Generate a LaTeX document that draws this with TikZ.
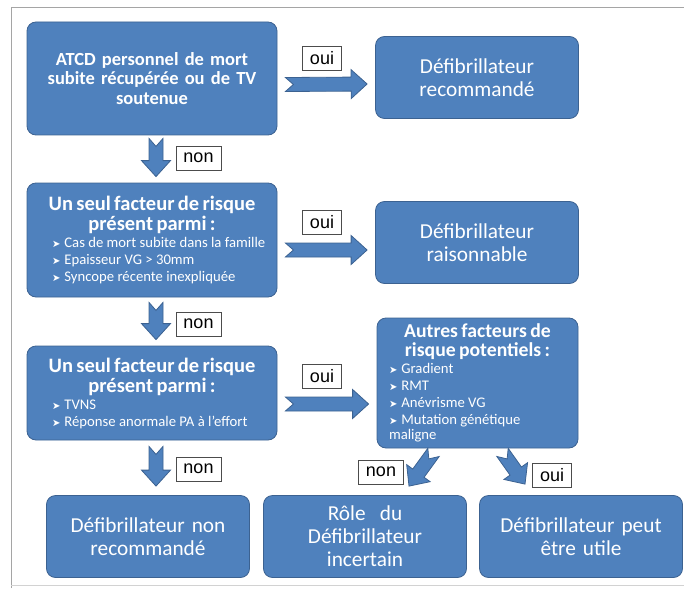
\documentclass[tikz,border=0pt]{standalone}
\usepackage{fontspec}
\setmainfont{Carlito}
\newfontfamily\labelfont{Liberation Sans}
\newfontfamily\bulletfont{DejaVu Sans}
\usetikzlibrary{calc}
\definecolor{boxblue}{RGB}{79,129,189}
\definecolor{boxline}{RGB}{60,98,145}
\definecolor{framegray}{RGB}{165,165,165}
\newlength{\puceskip}
\newcommand{\titlefont}{\fontsize{20.5}{20}\selectfont\bfseries}
\newcommand{\puce}[1]{\par\raggedright\leftskip=\puceskip\fontsize{14.7}{17}\selectfont\hangindent=13pt\hangafter=1{\bulletfont\fontsize{10}{10}\selectfont ➤}\hspace{4pt}#1\par}
\newcommand{\blockarrow}[2]{%
  \coordinate (ba-h) at ($(#2)!16pt!(#1)$);
  \coordinate (ba-n) at ($(#1)!8pt!(#2)$);
  \draw [arrowbody] ($(#1)!7pt!90:(#2)$) -- ($(ba-h)!7pt!90:(#2)$) -- ($(ba-h)!14.5pt!90:(#2)$) -- (#2)
    -- ($(ba-h)!14.5pt!-90:(#2)$) -- ($(ba-h)!7pt!-90:(#2)$) -- ($(#1)!7pt!-90:(#2)$) -- (ba-n) -- cycle;}
\tikzset{
  bluebox/.style={draw=boxline, fill=boxblue, line width=0.8pt, rounded corners=9pt, text=white, inner sep=0pt},
  askbox/.style={bluebox, minimum width=250pt, text width=240pt},
  endbox/.style={bluebox, minimum width=203pt, minimum height=82pt, text width=195pt, align=center, font=\fontsize{21.3}{23}\selectfont},
  answer/.style={draw=black!70, fill=white, line width=0.7pt, inner xsep=7.5pt, minimum height=24pt, font=\labelfont\fontsize{18}{18}\selectfont},
  arrowbody/.style={draw=boxline, fill=boxblue, line width=0.8pt, line join=miter}
}
\begin{document}
\begin{tikzpicture}[x=1pt, y=-1pt]
\useasboundingbox (0,0) rectangle (684,588);
\draw [framegray] (11,588) -- (11,7) -- (684,7);
\draw [framegray!50] (11,585) -- (684,585);
% questions
\node [askbox, minimum height=113pt, align=center, font=\fontsize{18.5}{19.5}\selectfont\bfseries] (q1) at (152,78.5) {ATCD personnel de mort\\subite récupérée ou de TV\\soutenue};
\node [askbox, minimum height=114pt] (q2) at (152,240) {\setlength{\puceskip}{20pt}{\centering\titlefont Un seul facteur de risque\\présent parmi :\par}
  \puce{Cas de mort subite dans la famille}\puce{Epaisseur VG > 30mm}\puce{Syncope récente inexpliquée}};
\node [askbox, minimum height=94pt] (q3) at (152,393) {\setlength{\puceskip}{20pt}{\centering\titlefont Un seul facteur de risque\\présent parmi :\par}
  \puce{TVNS}\puce{Réponse anormale PA à l’effort}};
\node [bluebox, minimum width=201pt, minimum height=130pt, text width=191pt] (r3) at (477.5,383) {\setlength{\puceskip}{7pt}{\centering\fontsize{19.7}{19}\selectfont\bfseries Autres facteurs de\\risque potentiels :\par}
  \puce{Gradient}\puce{RMT}\puce{Anévrisme VG}\puce{Mutation génétique\\[-2.5pt]maligne}};
% results
\node [endbox] (r1) at (477,77.5) {Défibrillateur\\recommandé};
\node [endbox] (r2) at (477,242.5) {Défibrillateur\\raisonnable};
\node [endbox] (e1) at (148,536.5) {Défibrillateur non\\recommandé};
\node [endbox] (e2) at (365,536.5) {Rôle~~du\\Défibrillateur\\incertain};
\node [endbox] (e3) at (581,536.5) {Défibrillateur peut\\être utile};
% arrows
\coordinate (a1s) at ($(q1.east)+(8,6)$);  \coordinate (a1t) at ($(r1.west)+(-8,6.5)$);
\coordinate (a2s) at ($(q2.east)+(8,10)$); \coordinate (a2t) at ($(r2.west)+(-8,7.5)$);
\coordinate (a3s) at ($(q3.east)+(8,11)$); \coordinate (a3t) at ($(r3.west)+(-8,21)$);
\coordinate (d1s) at ($(q1.south)+(4,3)$); \coordinate (d1t) at ($(q2.north)+(4,-6)$);
\coordinate (d2s) at ($(q2.south)+(4,5)$); \coordinate (d2t) at ($(q3.north)+(4,-6)$);
\coordinate (d3s) at ($(q3.south)+(4,6)$); \coordinate (d3t) at ($(e1.north)+(8,-9)$);
\coordinate (g1s) at ($(r3.south)+(-44,4)$); \coordinate (g1t) at ($(e2.north)+(44,-9)$);
\coordinate (g2s) at ($(r3.south)+(25,4)$);  \coordinate (g2t) at ($(e3.north)+(-56,-11)$);
\blockarrow{a1s}{a1t} \blockarrow{a2s}{a2t} \blockarrow{a3s}{a3t}
\blockarrow{d1s}{d1t} \blockarrow{d2s}{d2t} \blockarrow{d3s}{d3t}
\blockarrow{g1s}{g1t} \blockarrow{g2s}{g2t}
% labels
\node [answer] (o1) at (322,58.5) {oui};
\node [answer] (o2) at (322,222) {oui};
\node [answer] (o3) at (322,376) {oui};
\node [answer] (n1) at (198.5,158) {non};
\node [answer] (n2) at (198.5,324) {non};
\node [answer] (n3) at (198.5,469) {non};
\node [answer] (n4) at (381,472) {non};
\node [answer] (o4) at (552,475) {oui};
\end{tikzpicture}
\end{document}
